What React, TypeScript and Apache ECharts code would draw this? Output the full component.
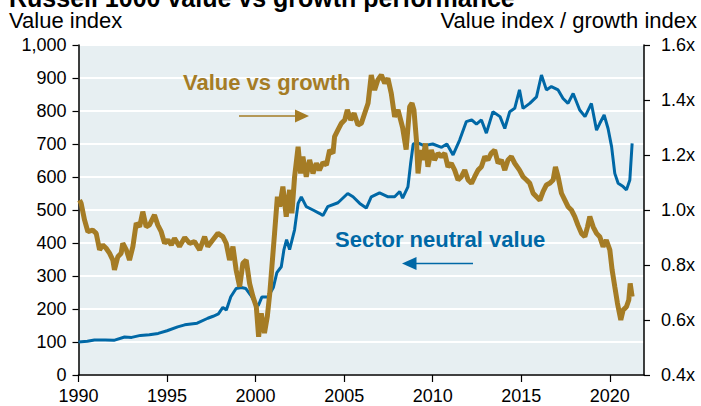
import React, { useEffect, useRef } from "react";
import * as echarts from "echarts";

const FONT = '"Liberation Sans", Arial, Helvetica, sans-serif';
const GOLD = "#a57c25";
const BLUE = "#0068a6";

const xTicks = [1990, 1995, 2000, 2005, 2010, 2015, 2020];

// Sector neutral value (left axis, index)
const blueDates = [
  1990.0, 1990.5, 1990.9, 1991.5, 1992.0, 1992.6, 1993.0, 1993.5, 1994.0, 1994.5,
  1995.0, 1995.6, 1996.0, 1996.7, 1997.3, 1997.6, 1997.9, 1998.15, 1998.35, 1998.6,
  1998.9, 1999.2, 1999.45, 1999.75, 2000.0, 2000.15, 2000.35, 2000.7, 2001.0, 2001.2,
  2001.45, 2001.6, 2001.75, 2001.92, 2002.2, 2002.4, 2002.58, 2002.86, 2003.24, 2003.6,
  2003.8, 2004.07, 2004.65, 2005.2, 2005.5, 2005.88, 2006.25, 2006.53, 2007.0, 2007.48,
  2007.85, 2008.14, 2008.3, 2008.6, 2008.75, 2008.9, 2009.1, 2009.5, 2010.0, 2010.5,
  2010.8, 2011.15, 2011.52, 2011.9, 2012.2, 2012.47, 2012.75, 2013.03, 2013.4, 2013.8,
  2014.07, 2014.35, 2014.63, 2014.9, 2015.1, 2015.48, 2015.86, 2016.14, 2016.42, 2016.7,
  2017.08, 2017.36, 2017.64, 2017.93, 2018.3, 2018.6, 2018.96, 2019.25, 2019.43, 2019.68,
  2019.9, 2020.1, 2020.28, 2020.47, 2020.75, 2020.94, 2021.13, 2021.26,
];
const blueValues = [
  100, 102, 106, 106, 105, 115, 114, 120, 122, 126,
  134, 146, 152, 157, 172, 178, 185, 205, 197, 237,
  262, 265, 262, 240, 215, 210, 236, 236, 265, 310,
  328, 380, 410, 380, 440, 520, 540, 510, 500, 490,
  483, 510, 522, 550, 540, 520, 506, 540, 552, 540,
  540, 556, 536, 570, 640, 700, 705, 695, 700, 690,
  700, 667, 712, 768, 773, 760, 773, 733, 798, 783,
  747, 798, 808, 864, 808, 823, 843, 909, 864, 874,
  864, 838, 823, 853, 803, 783, 823, 742, 762, 788,
  747, 692, 611, 581, 571, 561, 591, 702,
];

// Value vs growth (right axis, ratio)
const goldDates = [
  1990.06, 1990.15, 1990.34, 1990.53, 1990.8, 1991.0, 1991.19, 1991.37, 1991.56, 1991.75,
  1991.94, 1992.03, 1992.22, 1992.41, 1992.5, 1992.7, 1992.88, 1993.07, 1993.26, 1993.45,
  1993.63, 1993.82, 1994.0, 1994.29, 1994.48, 1994.67, 1994.86, 1995.05, 1995.24, 1995.42,
  1995.7, 1996.0, 1996.27, 1996.55, 1996.84, 1997.12, 1997.3, 1997.58, 1997.87, 1998.15,
  1998.34, 1998.53, 1998.72, 1998.9, 1999.1, 1999.28, 1999.47, 1999.66, 1999.85, 2000.04,
  2000.17, 2000.32, 2000.5, 2000.66, 2000.8, 2000.92, 2001.07, 2001.23, 2001.36, 2001.54,
  2001.73, 2001.92, 2002.05, 2002.2, 2002.4, 2002.54, 2002.67, 2002.86, 2003.05, 2003.24,
  2003.43, 2003.6, 2003.8, 2004.0, 2004.18, 2004.37, 2004.46, 2004.65, 2004.84, 2005.03,
  2005.18, 2005.37, 2005.56, 2005.78, 2005.97, 2006.16, 2006.35, 2006.53, 2006.72, 2006.9,
  2007.1, 2007.29, 2007.47, 2007.66, 2007.85, 2008.04, 2008.3, 2008.5, 2008.7, 2008.83,
  2008.94, 2009.08, 2009.17, 2009.32, 2009.45, 2009.59, 2009.73, 2009.92, 2010.1, 2010.3,
  2010.49, 2010.68, 2010.86, 2011.05, 2011.24, 2011.43, 2011.62, 2011.81, 2012.0, 2012.19,
  2012.37, 2012.56, 2012.75, 2012.94, 2013.12, 2013.3, 2013.5, 2013.69, 2013.88, 2014.07,
  2014.25, 2014.44, 2014.63, 2014.9, 2015.1, 2015.3, 2015.48, 2015.67, 2015.86, 2016.05,
  2016.23, 2016.42, 2016.6, 2016.8, 2016.93, 2017.08, 2017.27, 2017.46, 2017.64, 2017.83,
  2018.02, 2018.2, 2018.4, 2018.59, 2018.74, 2018.87, 2019.06, 2019.25, 2019.43, 2019.62,
  2019.8, 2020.0, 2020.13, 2020.28, 2020.43, 2020.62, 2020.75, 2020.94, 2021.07, 2021.15,
  2021.26,
];
const goldValues = [
  1.036, 1.024, 0.964, 0.921, 0.927, 0.915, 0.855, 0.873, 0.861, 0.843,
  0.818, 0.782, 0.83, 0.843, 0.879, 0.855, 0.818, 0.867, 0.952, 0.939,
  0.994, 0.939, 0.945, 0.982, 0.945, 0.921, 0.879, 0.891, 0.873, 0.897,
  0.867, 0.9, 0.879, 0.885, 0.855, 0.903, 0.867, 0.891, 0.915, 0.903,
  0.879, 0.818, 0.867, 0.782, 0.721, 0.806, 0.818, 0.733, 0.685, 0.648,
  0.539, 0.624, 0.552, 0.612, 0.697, 0.794, 0.915, 1.048, 1.012, 1.085,
  0.976, 1.073, 0.988, 1.12, 1.23, 1.133, 1.194, 1.121, 1.182, 1.133,
  1.17, 1.145, 1.173, 1.164, 1.218, 1.206, 1.267, 1.291, 1.315, 1.327,
  1.364, 1.327, 1.352, 1.309, 1.315, 1.352, 1.388, 1.491, 1.436, 1.473,
  1.491, 1.461, 1.479, 1.424, 1.339, 1.364, 1.3, 1.22, 1.376, 1.388,
  1.364, 1.255, 1.133, 1.218, 1.182, 1.242, 1.157, 1.218, 1.182, 1.206,
  1.194, 1.206, 1.157, 1.17, 1.145, 1.109, 1.121, 1.145, 1.109, 1.097,
  1.121, 1.145, 1.157, 1.194, 1.182, 1.206, 1.218, 1.17, 1.182, 1.145,
  1.182, 1.194, 1.17, 1.145, 1.121, 1.109, 1.097, 1.061, 1.048, 1.036,
  1.067, 1.091, 1.097, 1.109, 1.157, 1.121, 1.061, 1.036, 1.012, 1.0,
  0.976, 0.945, 0.915, 0.903, 0.939, 0.976, 0.939, 0.915, 0.903, 0.867,
  0.891, 0.855, 0.782, 0.721, 0.661, 0.6, 0.636, 0.648, 0.673, 0.733,
  0.685,
];

export default function App() {
  const ref = useRef<HTMLDivElement>(null);
  useEffect(() => {
    document.body.style.margin = "0";
    const chart = echarts.init(ref.current!, null, { renderer: "svg" });
    const bluePairs = blueDates.map((d, i) => [d, blueValues[i]]);
    const goldPairs = goldDates.map((d, i) => [d, goldValues[i]]);
    const axisText = { color: "#000", fontSize: 18, fontFamily: FONT };
    chart.setOption({
      animation: false,
      grid: {
        left: 78.5,
        right: 57,
        top: 45,
        bottom: 31,
        show: true,
        backgroundColor: "#e7eff2",
        borderWidth: 0,
      },
      xAxis: {
        type: "value",
        min: 1990,
        max: 2021.93,
        interval: 5,
        axisLine: { show: true, onZero: false, lineStyle: { color: "#000", width: 1.5 } },
        axisTick: { show: true, length: 7, customValues: xTicks, lineStyle: { color: "#000", width: 1.2 } },
        axisLabel: { ...axisText, margin: 12, customValues: xTicks, formatter: (v: number) => String(v) },
        splitLine: { show: false },
      },
      yAxis: [
        {
          type: "value",
          position: "left",
          min: 0,
          max: 1000,
          interval: 100,
          axisLine: { show: true, onZero: false, lineStyle: { color: "#000", width: 1.5 } },
          axisTick: { show: true, length: 6, lineStyle: { color: "#000", width: 1.2 } },
          axisLabel: {
            ...axisText,
            margin: 12,
            formatter: (v: number) => v.toLocaleString("en-US"),
          },
          splitLine: { show: true, lineStyle: { color: "#ffffff", width: 2 } },
        },
        {
          type: "value",
          position: "right",
          min: 0.4,
          max: 1.6,
          interval: 0.2,
          axisLine: { show: true, onZero: false, lineStyle: { color: "#000", width: 1.5 } },
          axisTick: { show: true, length: 6, lineStyle: { color: "#000", width: 1.2 } },
          axisLabel: { ...axisText, margin: 17, formatter: (v: number) => v.toFixed(1) + "x" },
          splitLine: { show: false },
        },
      ],
      series: [
        {
          name: "Sector neutral value",
          type: "line",
          yAxisIndex: 0,
          data: bluePairs,
          showSymbol: false,
          lineStyle: { color: BLUE, width: 3 },
          z: 2,
        },
        {
          name: "Value vs growth",
          type: "line",
          yAxisIndex: 1,
          data: goldPairs,
          showSymbol: false,
          lineStyle: { color: GOLD, width: 5 },
          z: 3,
        },
      ],
      graphic: [
        {
          type: "text",
          x: 9,
          y: -2,
          style: {
            text: "Russell 1000 value vs growth performance",
            font: `bold 25px ${FONT}`,
            lineHeight: 16,
            fill: "#000",
            verticalAlign: "middle",
          },
        },
        {
          type: "text",
          x: 9,
          y: 20,
          style: { text: "Value index", font: `22px ${FONT}`, lineHeight: 20, fill: "#000", verticalAlign: "middle" },
        },
        {
          type: "text",
          x: 697,
          y: 20,
          style: {
            text: "Value index / growth index",
            font: `22px ${FONT}`,
            lineHeight: 20,
            fill: "#000",
            align: "right",
            verticalAlign: "middle",
          },
        },
        {
          type: "text",
          x: 183,
          y: 82,
          z: 10,
          style: { text: "Value vs growth", font: `bold 22px ${FONT}`, fill: GOLD, verticalAlign: "middle" },
        },
        {
          type: "text",
          x: 335,
          y: 239,
          z: 10,
          style: { text: "Sector neutral value", font: `bold 22px ${FONT}`, fill: BLUE, verticalAlign: "middle" },
        },
        {
          type: "line",
          z: 10,
          shape: { x1: 239, y1: 116, x2: 297, y2: 116 },
          style: { stroke: GOLD, lineWidth: 1.5 },
        },
        {
          type: "polygon",
          z: 10,
          shape: { points: [[295, 109.5], [309, 116], [295, 122.5]] },
          style: { fill: GOLD },
        },
        {
          type: "line",
          z: 10,
          shape: { x1: 415, y1: 263.5, x2: 473, y2: 263.5 },
          style: { stroke: BLUE, lineWidth: 1.5 },
        },
        {
          type: "polygon",
          z: 10,
          shape: { points: [[416.5, 257], [402, 263.5], [416.5, 270]] },
          style: { fill: BLUE },
        },
      ],
    });
    return () => chart.dispose();
  }, []);
  return <div ref={ref} style={{ width: 701, height: 406 }} />;
}
